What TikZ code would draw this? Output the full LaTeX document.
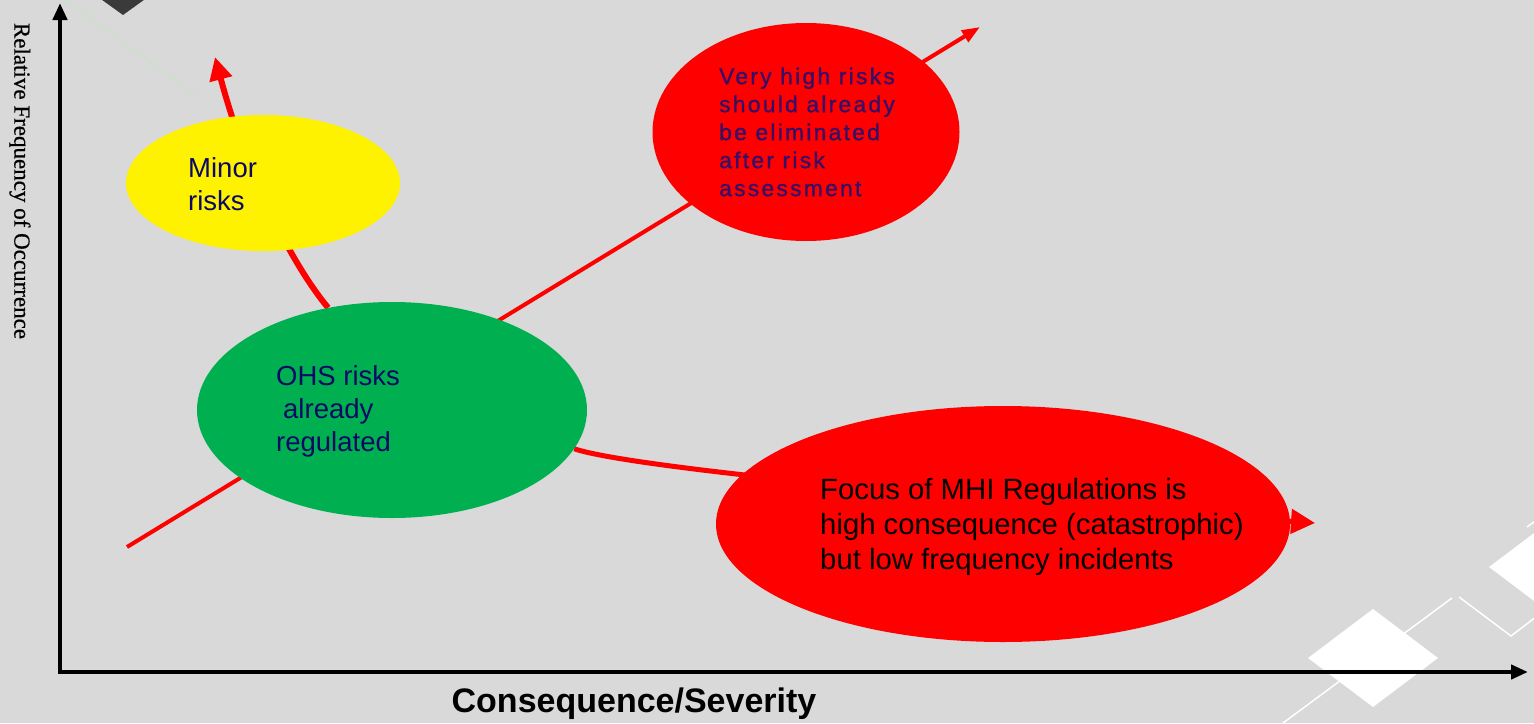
\documentclass[tikz,border=0pt]{standalone}
\usepackage{fontspec}
\setmainfont{Liberation Sans}
\newfontfamily\axisfont[FakeBold=0.6]{Liberation Serif}
\newfontfamily\spacedfont[LetterSpace=10,FakeBold=1.2]{Liberation Sans}
\usepackage{tikz}
\usetikzlibrary{shapes.geometric,arrows.meta,backgrounds}
\pgfdeclarelayer{back}
\pgfsetlayers{back,background,main}
\definecolor{slide}{RGB}{217,217,217}
\definecolor{okgreen}{RGB}{0,176,80}
\definecolor{inkblue}{RGB}{10,10,100}
\definecolor{inkpurple}{RGB}{55,15,100}
\definecolor{darktile}{RGB}{58,58,58}
\definecolor{faintgreen}{RGB}{200,228,196}

\begin{document}
\begin{tikzpicture} [x=1pt,y=-1pt,
    every node/.style={inner sep=0pt,align=left},
    risk/.style={ellipse,draw=none},
    note/.style={anchor=west,font=\fontsize{27.5}{33}\selectfont},
    axis/.style={line width=4.5pt,-{Triangle[length=17pt,width=14pt]}},
    con/.style={red,line width=5pt},
    tile/.style={fill=white,draw=none}
    ]
    \useasboundingbox (0,0) rectangle (1534,723);

    \node (minor) [risk, fill=yellow, minimum width=274pt, minimum height=136pt] at (263,183) {};
    \node (ohs) [risk, fill=okgreen, minimum width=390pt, minimum height=216pt] at (392,410) {};
    \node (high) [risk, fill=red, minimum width=307pt, minimum height=218pt] at (806,132) {};
    \node (mhi) [risk, fill=red, minimum width=574pt, minimum height=236pt] at (1003,524) {};

    \node (minortext) [note, text=inkblue] at (188,184) {Minor\\risks};
    \node (ohstext) [note, text=inkblue] at (276,411) {OHS risks\\\hspace*{7pt}already\\regulated};
    \node (hightext) [note, text=inkpurple, font=\spacedfont\fontsize{22.8}{28}\selectfont] at (719,132)
      {Very high risks\\should already\\be eliminated\\after risk\\assessment};
    \node (mhitext) [note, font=\fontsize{29.3}{35}\selectfont] at (820,527)
      {Focus of MHI Regulations is\\high consequence (catastrophic)\\but low frequency incidents};

    \coordinate (lowstart) at (127,547);
    \coordinate (hightip) at (980,27);
    \coordinate (minortip) at (215,57);
    \coordinate (mhitip) at (1315,523);
    \coordinate (origin) at (58,672);
    \coordinate (ytip) at (60,3);
    \coordinate (xtip) at (1528,672);

    \begin{pgfonlayer}{background}
     \draw [con, line width=4pt, -{Triangle[length=18pt,width=13pt]}] (lowstart) -- (hightip);
     \draw [con, line width=6pt, -{Triangle[length=23pt,width=22pt]}]
       (ohs.122) .. controls (290,262) and (245,170) .. (minortip);
     \draw [con, -{Triangle[length=24pt,width=24pt]}]
       (ohs.-12) .. controls (620,465) and (900,495) .. (mhitip);
    \end{pgfonlayer}

    \begin{pgfonlayer}{back}
     \fill [slide] (0,0) rectangle (1534,723);
     \begin{scope}
      \clip (0,0) rectangle (1534,723);
      \fill [darktile] (123,-83) -- (191,-34) -- (123,15) -- (55,-34) -- cycle;
      \draw [faintgreen, line width=1pt] (65,0) -- (200,98);
      \draw [white, line width=1.5pt] (1283,723) -- (1452,598);
      \draw [white, line width=1.5pt] (1459,597) -- (1511,636) -- (1545,610);
      \draw [white, line width=1.5pt] (1527,527) -- (1545,514);
      \fill [tile] (1373,609) -- (1438,658) -- (1373,707) -- (1308,658) -- cycle;
      \fill [tile] (1554,518) -- (1619,567) -- (1554,616) -- (1489,567) -- cycle;
     \end{scope}
    \end{pgfonlayer}

     \draw [axis] (origin |- xtip) ++(2,0) -- (ytip);
     \draw [axis] (origin) -- (xtip);

    \node (ylabel) [rotate=-90, font=\axisfont\fontsize{23}{28}\selectfont] at (20,181)
      {Relative Frequency of Occurrence};
    \node (xlabel) [font=\bfseries\fontsize{34}{40}\selectfont] at (634,704) {Consequence/Severity};
  \end{tikzpicture}
\end{document}
